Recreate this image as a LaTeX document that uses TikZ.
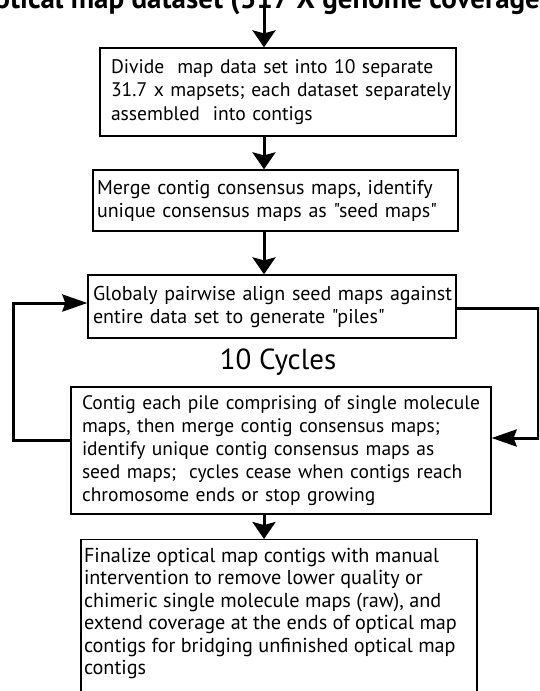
\documentclass[tikz,border=0pt]{standalone}
\usepackage{fontspec}
\setmainfont{PT Sans}[Ligatures=TeXOff]
\usetikzlibrary{arrows.meta}
\tikzset{
  stepbox/.style={draw, line width=1.3pt, rectangle, align=left, inner ysep=0pt, inner xsep=0pt},
  flow/.style={line width=3pt, -{Stealth[length=17pt,width=23pt,inset=3pt]}},
  loopflow/.style={line width=3pt, -{Stealth[length=25pt,width=17pt,inset=3pt]}},
}
\begin{document}
\begin{tikzpicture}[x=1pt,y=-1pt]
\useasboundingbox (0,0) rectangle (539,691);
\clip (0,0) rectangle (539,691);
\node[font=\bfseries\fontsize{29}{32}\selectfont, anchor=base] (title) at (262,8) {Optical map dataset (317 X genome coverage)};
\node[stepbox, font=\fontsize{19.6}{23.5}\selectfont, minimum width=356pt, minimum height=88pt, text width=334pt] (box1) at (278,92)
 {Divide\ \ map data set into 10 separate\\\mbox{31.7 x mapsets; each dataset separately}\\assembled\ \ into contigs};
\node[stepbox, font=\fontsize{20}{23}\selectfont, minimum width=365pt, minimum height=61pt, text width=357pt] (box2) at (275.5,200.5)
 {Merge contig consensus maps, identify\\\mbox{unique consensus maps as "seed maps"}};
\node[stepbox, font=\fontsize{20}{23}\selectfont, minimum width=368pt, minimum height=63pt, text width=358pt] (box3) at (272,306.5)
 {\mbox{Globaly pairwise align seed maps against}\\entire data set to generate "piles"};
\node[font=\fontsize{29}{32}\selectfont] (cycles) at (278,362) {10 Cycles};
\node[stepbox, font=\fontsize{19.5}{23}\selectfont, minimum width=420pt, minimum height=127pt, text width=398pt] (box4) at (281,450.5)
 {\mbox{Contig each pile comprising of single molecule}\\maps, then merge contig consensus maps;\\identify unique contig consensus maps as\\\mbox{seed maps;\ \ cycles cease when contigs reach}\\chromosome ends or stop growing};
\node[stepbox, font=\fontsize{20.2}{22.5}\selectfont, anchor=north, minimum width=396pt, minimum height=230pt] (box5) at (279,539)
 {\parbox[c][225pt][t]{390pt}{\rule{0pt}{20pt}Finalize optical map contigs with manual\\intervention to remove lower quality or\\chimeric single molecule maps (raw), and\\extend coverage at the ends of optical map\\contigs for bridging unfinished optical map\\contigs}};
\coordinate (ax) at (264,0);
\draw[flow] (title.base -| ax) -- (box1.north -| ax);
\draw[flow] (box1.south -| ax) -- (box2.north -| ax);
\draw[flow] (box2.south -| ax) -- (box3.north -| ax);
\draw[flow] (box4.south -| ax) -- (box5.north -| ax);
\coordinate (la) at (13,440);
\coordinate (lb) at (13,303);
\draw[loopflow] (la -| box4.west) -- (la) -- (lb) -- (lb -| box3.west);
\coordinate (ra) at (538,308);
\coordinate (rb) at (538,438);
\draw[loopflow] (ra -| box3.east) -- (ra) -- (rb) -- (rb -| box4.east);
\end{tikzpicture}
\end{document}
